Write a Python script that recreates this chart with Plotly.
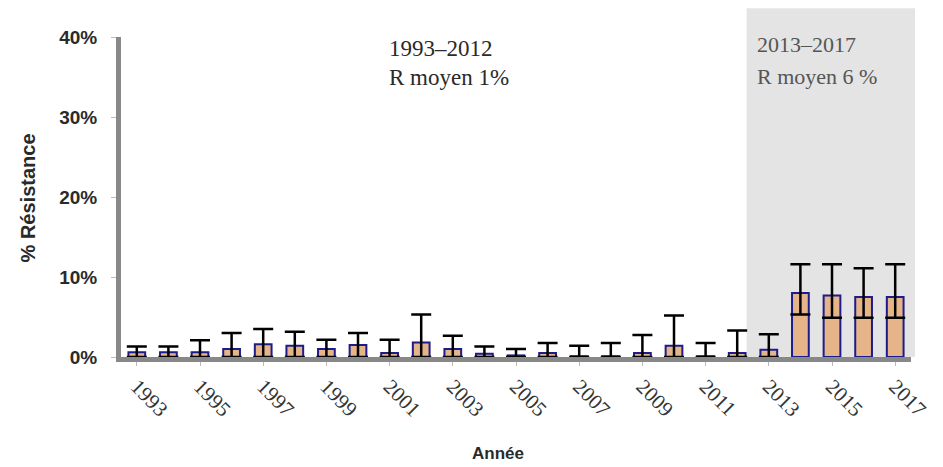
import plotly.graph_objects as go

years = [str(y) for y in range(1993, 2018)]
resistance = [0.6, 0.6, 0.6, 1.0, 1.6, 1.4, 1.0, 1.5, 0.5, 1.8, 1.0, 0.4, 0.2,
              0.5, 0.1, 0.1, 0.5, 1.4, 0.1, 0.5, 0.9, 8.0, 7.7, 7.5, 7.5]
ci_upper = [1.3, 1.3, 2.1, 3.0, 3.5, 3.15, 2.15, 3.0, 2.15, 5.3, 2.65, 1.3, 1.0,
            1.75, 1.4, 1.75, 2.74, 5.2, 1.75, 3.3, 2.85, 11.6, 11.6, 11.1, 11.6]
ci_lower = [0, 0, 0, 0, 0, 0, 0, 0, 0, 0, 0, 0, 0,
            0, 0, 0, 0, 0, 0, 0, 0, 5.3, 4.9, 4.9, 4.9]
tick_years = [str(y) for y in range(1993, 2018, 2)]
y_ticks = [0, 10, 20, 30, 40]
y_ticklabels = ["0%", "10%", "20%", "30%", "40%"]

err_plus = [u - v for u, v in zip(ci_upper, resistance)]
err_minus = [v - l for v, l in zip(resistance, ci_lower)]

fig = go.Figure()
fig.add_shape(type="rect", xref="paper", yref="paper", x0=0.792, x1=1.005, y0=0, y1=1.09,
              fillcolor="#e4e4e4", line_width=0, layer="below")
fig.add_trace(go.Bar(
    x=years, y=resistance,
    marker=dict(color="#e6b489", line=dict(color="#1c1c8a", width=2)),
    error_y=dict(type="data", symmetric=False, array=err_plus, arrayminus=err_minus,
                 color="black", thickness=2.5, width=10),
    width=0.53,
))

serif = "Liberation Serif"
sans = "Liberation Sans"
fig.add_annotation(x=0.337, y=0.9626, xref="paper", yref="paper", xanchor="left", yanchor="middle",
                   text="1993–2012", showarrow=False,
                   font=dict(family=serif, size=23, color="#2a2a2a"))
fig.add_annotation(x=0.337, y=0.872, xref="paper", yref="paper", xanchor="left", yanchor="middle",
                   text="R moyen 1%", showarrow=False,
                   font=dict(family=serif, size=23, color="#2a2a2a"))
fig.add_annotation(x=0.802, y=0.978, xref="paper", yref="paper", xanchor="left", yanchor="middle",
                   text="2013–2017", showarrow=False,
                   font=dict(family=serif, size=22, color="#555555"))
fig.add_annotation(x=0.802, y=0.878, xref="paper", yref="paper", xanchor="left", yanchor="middle",
                   text="R moyen 6 %", showarrow=False,
                   font=dict(family=serif, size=22, color="#555555"))
fig.add_annotation(x=-0.118, y=0.498, xref="paper", yref="paper", xanchor="center", yanchor="middle",
                   text="<b>% Résistance</b>", textangle=-90, showarrow=False,
                   font=dict(family=sans, size=20, color="#2a2a2a"))
fig.add_annotation(x=0.477, y=-0.338, xref="paper", yref="paper", xanchor="center", yanchor="bottom",
                   text="<b>Année</b>", showarrow=False,
                   font=dict(family=sans, size=17, color="#2a2a2a"))

fig.update_layout(
    width=935, height=459,
    margin=dict(l=113, r=24, t=29, b=110),
    plot_bgcolor="rgba(0,0,0,0)", paper_bgcolor="white",
    showlegend=False,
    xaxis=dict(type="category", tickmode="array", tickvals=tick_years, ticktext=tick_years,
               tickangle=45, range=[-0.5, 24.5],
               showline=True, linecolor="#888888", linewidth=5, ticks="outside",
               tickcolor="#bbbbbb", ticklen=4,
               tickfont=dict(family=serif, size=21, color="#333333")),
    yaxis=dict(range=[0, 40], tickvals=y_ticks, ticktext=y_ticklabels,
               showgrid=False, zeroline=False,
               showline=True, linecolor="#888888", linewidth=5, ticks="outside",
               tickcolor="#bbbbbb", ticklen=5, ticklabelstandoff=10,
               tickfont=dict(family=sans, size=19, color="#2a2a2a", weight="bold")),
)
fig.write_html("out.html")
